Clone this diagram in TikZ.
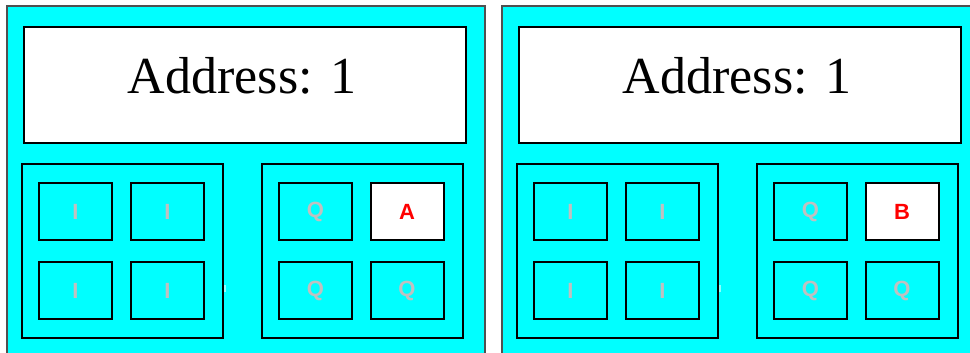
\documentclass[tikz,border=0pt]{standalone}
\usepackage{fontspec}
\setmainfont{Liberation Serif}
\newfontfamily\labelfont{Liberation Sans}
\definecolor{aqua}{HTML}{00FFFF}
\definecolor{silvertxt}{HTML}{C0C0C0}
\definecolor{panelline}{HTML}{505050}
\begin{document}
\begin{tikzpicture}[x=1pt,y=-1pt,
  panel/.style={fill=aqua,draw=panelline,line width=1.6pt},
  addrbox/.style={fill=white,draw=black,line width=1.6pt,inner sep=0pt,outer sep=0pt,
    minimum width=442pt,minimum height=116pt},
  addrtext/.style={font=\fontsize{52}{58}\selectfont,inner sep=0pt,anchor=base},
  groupbox/.style={draw=black,line width=2pt,inner sep=0pt,outer sep=0pt,
    minimum width=201pt,minimum height=174pt},
  cell/.style={draw=black,line width=2pt,fill=aqua,inner sep=0pt,outer sep=0pt,
    minimum width=73pt,minimum height=57pt,
    font=\labelfont\bfseries\fontsize{22}{24}\selectfont,text=silvertxt},
  hotcell/.style={cell,fill=white,text=red},
  speck/.style={draw=white!55!aqua,line width=1.2pt}
]
\useasboundingbox (0,0) rectangle (970,353);
\clip (0,0) rectangle (970,353);
\foreach \p/\dx/\tag in {L/0/A, R/495/B}{
  \begin{scope}[xshift=\dx pt]
    % outer panel
    \node[panel,inner sep=0pt,outer sep=0pt,minimum width=478pt,minimum height=360pt]
      (panel\p) at (246,186) {};
    % address header
    \node[addrbox] (addr\p) at (245,85) {};
    \node[addrtext] (addrlbl\p) at (242,93) {Address: 1};
    % two groups of four cells
    \node[groupbox] (gi\p) at (122.5,251) {};
    \node[groupbox] (gq\p) at (362.5,251) {};
    \node[cell] (i1\p) at (75.5,211.5) {I};
    \node[cell] (i2\p) at (167.5,211.5) {I};
    \node[cell] (i3\p) at (75.5,290.5) {I};
    \node[cell] (i4\p) at (167.5,290.5) {I};
    \node[cell] (q1\p) at (315.5,211.5) {Q};
    \node[hotcell] (q2\p) at (407,211.5) {\tag};
    \node[cell] (q3\p) at (315.5,290.5) {Q};
    \node[cell] (q4\p) at (407,290.5) {Q};
    % small mark between the groups
    \coordinate (sa\p) at (225,285);
    \coordinate (sb\p) at (225,292);
    \draw[speck] (sa\p) -- (sb\p);
  \end{scope}
}
\end{tikzpicture}
\end{document}
